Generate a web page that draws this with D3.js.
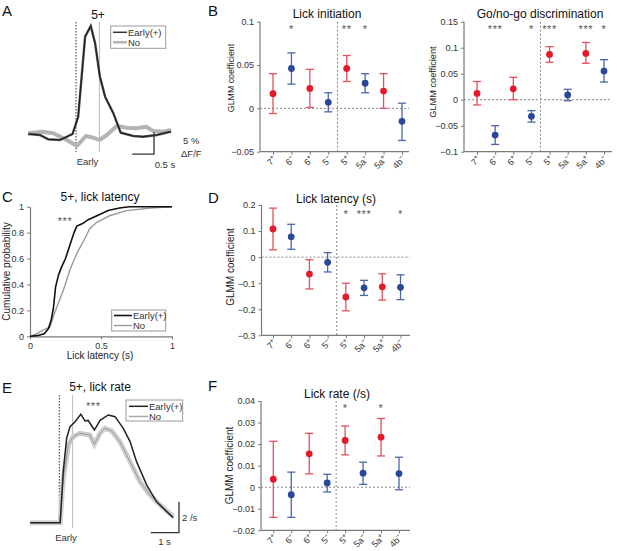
<!DOCTYPE html>
<html><head><meta charset="utf-8">
<script src="https://cdn.jsdelivr.net/npm/d3@7/dist/d3.min.js"></script>
<style>body{margin:0;background:#fff}svg{font-family:"Liberation Sans",Arial,sans-serif}</style>
</head><body>
<script>
// ---------- DATA ----------
const cats = ["7+","6-","6+","5-","5+","5a-","5a+","4b-"];

const initMean = [0.017, 0.046, 0.023, 0.007, 0.046, 0.029, 0.020, -0.015];
const initLo   = [-0.006, 0.028, 0.001, -0.004, 0.031, 0.018, 0.000, -0.037];
const initHi   = [0.040, 0.064, 0.045, 0.018, 0.061, 0.040, 0.040, 0.006];
const initStars = ["", "*", "", "", "**", "*", "", ""];
const initTicks = [-0.05, 0, 0.05, 0.1];

const gngMean = [0.012, -0.068, 0.021, -0.032, 0.087, 0.009, 0.089, 0.055];
const gngLo   = [-0.010, -0.086, 0.000, -0.043, 0.072, -0.002, 0.070, 0.034];
const gngHi   = [0.035, -0.050, 0.043, -0.021, 0.102, 0.020, 0.110, 0.077];
const gngStars = ["", "***", "", "*", "***", "", "***", "*"];
const gngTicks = [-0.1, -0.05, 0, 0.05, 0.1, 0.15];

const latMean = [0.108, 0.078, -0.065, -0.020, -0.153, -0.118, -0.114, -0.116];
const latLo   = [0.028, 0.030, -0.122, -0.057, -0.206, -0.147, -0.165, -0.163];
const latHi   = [0.188, 0.126, -0.010, 0.017, -0.100, -0.089, -0.064, -0.068];
const latStars = ["", "", "", "", "*", "***", "", "*"];
const latTicks = [-0.3, -0.2, -0.1, 0, 0.1, 0.2];

const rateMean = [0.0037, -0.0035, 0.0155, 0.0020, 0.0217, 0.0065, 0.0232, 0.0063];
const rateLo   = [-0.0140, -0.0140, 0.0062, -0.0022, 0.0150, 0.0013, 0.0145, -0.0012];
const rateHi   = [0.0213, 0.0070, 0.0250, 0.0060, 0.0284, 0.0116, 0.0319, 0.0139];
const rateStars = ["", "", "", "", "*", "", "*", ""];
const rateTicks = [-0.02, -0.01, 0, 0.01, 0.02, 0.03, 0.04];

// Panel A: dF/F traces (%), time (s) from early onset
const aTimeEarly = [-1.10,-0.83,-0.64,-0.37,-0.08,0.05,0.21,0.34,0.44,0.55,0.67,0.86,1.03,1.32,1.55,1.86,2.19];
const aEarly     = [0,-0.27,-1.45,-1.64,0,4.7,26.6,29.5,24.8,15.7,10.2,5.7,0.36,-0.55,-0.74,-0.27,0.63];
const aTimeNo    = [-1.10,-0.79,-0.52,-0.21,0.02,0.23,0.40,0.54,0.71,0.94,1.17,1.40,1.61,1.78,2.01,2.19];
const aNo        = [0.19,0.63,0.19,-1.64,-3.28,-0.55,-1.01,-1.64,-0.27,2.19,1.72,1.56,1.99,0.82,0.63,1.09];
const aLateMark = 0.54;

// Panel C: cumulative probability of lick latency
const latEarlyT = [0, 0.05, 0.10, 0.13, 0.15, 0.165, 0.18, 0.20, 0.22, 0.25, 0.28, 0.31, 0.33, 0.37, 0.41, 0.49, 0.55, 0.63, 0.70, 1.0];
const latEarlyP = [0, 0.005, 0.02, 0.06, 0.13, 0.22, 0.38, 0.47, 0.53, 0.60, 0.70, 0.80, 0.85, 0.87, 0.90, 0.94, 0.97, 0.99, 1.0, 1.0];
const latNoT = [0, 0.05, 0.094, 0.14, 0.176, 0.235, 0.28, 0.33, 0.375, 0.42, 0.47, 0.56, 0.68, 0.85, 1.0];
const latNoP = [0, 0.02, 0.05, 0.07, 0.19, 0.356, 0.51, 0.64, 0.73, 0.83, 0.88, 0.93, 0.97, 0.99, 1.0];
const cXTicks = [0, 0.5, 1];
const cYTicks = [0, 0.2, 0.4, 0.6, 0.8, 1];

// Panel E: lick rate (/s)
const eTime  = [-1.03, 0.03, 0.14, 0.26, 0.38, 0.55, 0.76, 0.91, 1.02, 1.24, 1.44, 1.73, 1.97, 2.26, 2.5, 2.73, 3.09, 3.44, 3.8, 4.03];
const eEarly = [0, 0, 3.3, 5.45, 6.2, 6.5, 7.0, 6.56, 6.6, 5.98, 6.6, 6.95, 6.84, 6.09, 5.23, 3.94, 2.43, 1.35, 0.71, 0.32];
const eNoTime = [-1.03, 0.03, 0.14, 0.32, 0.49, 0.73, 1.08, 1.24, 1.44, 1.61, 1.85, 2.14, 2.5, 2.85, 3.2, 3.56, 4.03];
const eNo     = [0, 0, 2.86, 5.0, 5.55, 5.77, 5.66, 5.06, 5.77, 6.09, 5.92, 5.23, 3.94, 2.65, 1.79, 1.14, 0.39];
const eLateMark = 0.47;

// ---------- DRAW ----------
const RED_DOT = "#e31a2a", RED_BAR = "#e4505e", BLUE_DOT = "#2a479b", BLUE_BAR = "#4d66a8";
const AX = "#7a7a7a", TXT = "#333";
const svg = d3.select("body").append("svg").attr("width", 617).attr("height", 551);

function txt(x, y, s, o = {}) {
  const t = svg.append("text").attr("x", x).attr("y", y).text(s)
    .attr("font-size", o.size || 10).attr("fill", o.fill || TXT)
    .attr("text-anchor", o.anchor || "start");
  if (o.rotate) t.attr("transform", `rotate(${o.rotate},${x},${y})`);
  if (o.ls) t.attr("letter-spacing", o.ls);
  return t;
}
function star(x, yc, s) {
  if (!s) return;
  txt(x, yc + 6.5, s, {size: 11, anchor: "middle", fill: "#555", ls: 0.6});
}

// panel letters
[["A",2,16],["B",208,16],["C",2,202],["D",208,203],["E",2,393],["F",208,391]].forEach(d =>
  txt(d[1], d[2], d[0], {size: 15, fill: "#111"}));

function glmm(cfg, mean, lo, hi, stars, ticks) {
  const y = d3.scaleLinear().domain([ticks[0], ticks[ticks.length - 1]]).range([cfg.yBot, cfg.yTop]);
  const x = d3.scalePoint().domain(cats).range([cfg.c0, cfg.c1]);
  const g = svg.append("g");
  g.append("line").attr("x1", cfg.ax).attr("x2", cfg.axEnd).attr("y1", y(0)).attr("y2", y(0))
    .attr("stroke", "#888").attr("stroke-dasharray", "2,2").attr("stroke-width", 1);
  const sep = (x("5-") + x("5+")) / 2;
  g.append("line").attr("x1", sep).attr("x2", sep).attr("y1", cfg.yTop).attr("y2", cfg.yBot)
    .attr("stroke", "#888").attr("stroke-dasharray", "2,2").attr("stroke-width", 1);
  const ya = g.append("g").attr("transform", `translate(${cfg.ax},0)`)
    .call(d3.axisLeft(y).tickValues(ticks).tickSize(3).tickSizeOuter(0).tickFormat(d => d3.format("")(+d.toFixed(3))));
  ya.select(".domain").remove();
  ya.selectAll("line").attr("stroke", AX);
  ya.selectAll("text").attr("font-size", 9).attr("fill", TXT).attr("font-family", null);
  g.append("line").attr("x1", cfg.ax).attr("x2", cfg.ax).attr("y1", cfg.yTop).attr("y2", cfg.yBot).attr("stroke", AX).attr("stroke-width", 1.2);
  const xa = g.append("g").attr("transform", `translate(0,${cfg.yBot})`)
    .call(d3.axisBottom(x).tickSize(3).tickSizeOuter(0).tickFormat(""));
  xa.select(".domain").remove();
  xa.selectAll("line").attr("stroke", AX);
  g.append("line").attr("x1", cfg.ax).attr("x2", cfg.axEnd).attr("y1", cfg.yBot).attr("y2", cfg.yBot).attr("stroke", AX).attr("stroke-width", 1.2);
  cats.forEach(c => {
    const px = x(c) + 4, py = cfg.yBot + 8;
    const t = g.append("text").attr("transform", `translate(${px},${py}) rotate(-45)`)
      .attr("text-anchor", "end").attr("font-size", 9).attr("fill", TXT);
    t.append("tspan").text(c.slice(0, -1));
    t.append("tspan").text(c.slice(-1) === "+" ? "+" : "\u2212").attr("font-size", 6.5).attr("dy", -3.5);
  });
  cats.forEach((c, i) => {
    const plus = c.slice(-1) === "+";
    const bc = plus ? RED_BAR : BLUE_BAR, dc = plus ? RED_DOT : BLUE_DOT;
    const cx = x(c);
    g.append("line").attr("x1", cx).attr("x2", cx).attr("y1", y(lo[i])).attr("y2", y(hi[i])).attr("stroke", bc).attr("stroke-width", 1.3);
    [lo[i], hi[i]].forEach(v => g.append("line").attr("x1", cx - 4).attr("x2", cx + 4).attr("y1", y(v)).attr("y2", y(v)).attr("stroke", bc).attr("stroke-width", 1.3));
    g.append("circle").attr("cx", cx).attr("cy", y(mean[i])).attr("r", 3.4).attr("fill", dc);
    star(cx, cfg.starY, stars[i]);
  });
  txt(cfg.titleX, cfg.titleY, cfg.title, {size: 12, anchor: "middle", fill: "#111"});
  txt(cfg.labX, cfg.labY, "GLMM coefficient", {size: cfg.labSize, anchor: "middle", rotate: -90, fill: "#222"});
}

glmm({ax: 260, axEnd: 409, yTop: 21.7, yBot: 151.7, c0: 273, c1: 402, starY: 26, title: "Lick initiation", titleX: 327, titleY: 18, labX: 234, labY: 78, labSize: 8.8},
  initMean, initLo, initHi, initStars, initTicks);
glmm({ax: 464, axEnd: 612, yTop: 21.7, yBot: 151.7, c0: 477, c1: 604, starY: 26, title: "Go/no-go discrimination", titleX: 540, titleY: 18, labX: 436, labY: 82, labSize: 9.2},
  gngMean, gngLo, gngHi, gngStars, gngTicks);
glmm({ax: 261.5, axEnd: 410, yTop: 205, yBot: 335.3, c0: 273, c1: 400.5, starY: 211, title: "Lick latency (s)", titleX: 336, titleY: 203, labX: 234, labY: 267, labSize: 10},
  latMean, latLo, latHi, latStars, latTicks);
glmm({ax: 261, axEnd: 410, yTop: 401, yBot: 530.3, c0: 273.3, c1: 399, starY: 405, title: "Lick rate (/s)", titleX: 337, titleY: 398, labX: 233, labY: 465.5, labSize: 10},
  rateMean, rateLo, rateHi, rateStars, rateTicks);

// ---------- Panel A ----------
{
  const x = d3.scaleLinear().domain([0, 1]).range([76, 119.4]);
  const y = d3.scaleLinear().domain([0, 5]).range([134, 115.7]);
  svg.append("line").attr("x1", x(0)).attr("x2", x(0)).attr("y1", 22).attr("y2", 152).attr("stroke", "#333").attr("stroke-dasharray", "1.5,1.5");
  svg.append("line").attr("x1", x(aLateMark)).attr("x2", x(aLateMark)).attr("y1", 22).attr("y2", 152).attr("stroke", "#bbb").attr("stroke-width", 1);
  const ln = d3.line().x(d => x(d[0])).y(d => y(d[1]));
  svg.append("path").attr("d", ln(d3.zip(aTimeNo, aNo))).attr("fill", "none").attr("stroke", "#b4b4b4").attr("stroke-width", 4).attr("stroke-linejoin", "round");
  svg.append("path").attr("d", ln(d3.zip(aTimeEarly, aEarly))).attr("fill", "none").attr("stroke", "#555").attr("stroke-width", 2.4);
  svg.append("path").attr("d", ln(d3.zip(aTimeEarly, aEarly))).attr("fill", "none").attr("stroke", "#222").attr("stroke-width", 1.2);
  txt(98, 19, "5+", {size: 12, anchor: "middle", fill: "#111"});
  txt(87.5, 165, "Early", {size: 9.5, anchor: "middle"});
  svg.append("rect").attr("x", 110.7).attr("y", 26).attr("width", 55).attr("height", 22.3).attr("fill", "#fff").attr("stroke", "#999");
  svg.append("line").attr("x1", 113).attr("x2", 127).attr("y1", 32.3).attr("y2", 32.3).attr("stroke", "#333").attr("stroke-width", 1.5);
  svg.append("line").attr("x1", 113).attr("x2", 127).attr("y1", 42.3).attr("y2", 42.3).attr("stroke", "#b4b4b4").attr("stroke-width", 2.5);
  txt(128, 35.5, "Early(+)", {size: 9.5});
  txt(128, 45.5, "No", {size: 9.5});
  svg.append("path").attr("d", `M${x(1.797)},${y(0.5)}V${y(-5.5)}H${x(1.797) - 21.7}`).attr("fill", "none").attr("stroke", "#333").attr("stroke-width", 1.3);
  txt(183, 144, "5 %", {size: 9.5});
  txt(181, 157, "\u0394F/F", {size: 9.5});
  txt(165, 168, "0.5 s", {size: 9.5, anchor: "middle"});
}

// ---------- Panel C ----------
{
  const x = d3.scaleLinear().domain([0, 1]).range([30, 172]);
  const y = d3.scaleLinear().domain([0, 1]).range([336.3, 206.7]);
  const ya = svg.append("g").attr("transform", "translate(30,0)").call(d3.axisLeft(y).tickValues(cYTicks).tickSize(3).tickSizeOuter(0).tickFormat(d3.format("")));
  const xa = svg.append("g").attr("transform", "translate(0,336.3)").call(d3.axisBottom(x).tickValues(cXTicks).tickSize(3).tickSizeOuter(0).tickFormat(d3.format("")));
  [ya, xa].forEach(a => {
    a.select(".domain").attr("stroke", AX).attr("stroke-width", 1.2);
    a.selectAll("line").attr("stroke", AX);
    a.selectAll("text").attr("font-size", 9).attr("fill", TXT).attr("font-family", null);
  });
  const ln = d3.line().x(d => x(d[0])).y(d => y(d[1]));
  svg.append("path").attr("d", ln(d3.zip(latNoT, latNoP))).attr("fill", "none").attr("stroke", "#9a9a9a").attr("stroke-width", 1.4);
  svg.append("path").attr("d", ln(d3.zip(latEarlyT, latEarlyP))).attr("fill", "none").attr("stroke", "#111").attr("stroke-width", 1.6);
  txt(100, 201, "5+, lick latency", {size: 12, anchor: "middle", fill: "#111"});
  txt(65, 224.5, "***", {size: 11, anchor: "middle", fill: "#555", ls: 0.6});
  txt(100, 359, "Lick latency (s)", {size: 10, anchor: "middle", fill: "#222"});
  txt(10, 271.5, "Cumulative probability", {size: 10, anchor: "middle", rotate: -90, fill: "#222"});
  svg.append("rect").attr("x", 111.7).attr("y", 310).attr("width", 54).attr("height", 21).attr("fill", "#fff").attr("stroke", "#999");
  svg.append("line").attr("x1", 114).attr("x2", 132).attr("y1", 315.5).attr("y2", 315.5).attr("stroke", "#111").attr("stroke-width", 1.6);
  svg.append("line").attr("x1", 114).attr("x2", 132).attr("y1", 325.5).attr("y2", 325.5).attr("stroke", "#9a9a9a").attr("stroke-width", 1.4);
  txt(133, 318.8, "Early(+)", {size: 9.5});
  txt(133, 328.8, "No", {size: 9.5});
}

// ---------- Panel E ----------
{
  const x = d3.scaleLinear().domain([0, 1]).range([59.3, 87.6]);
  const y = d3.scaleLinear().domain([0, 2]).range([522.7, 491.7]);
  svg.append("line").attr("x1", x(0)).attr("x2", x(0)).attr("y1", 395).attr("y2", 523).attr("stroke", "#333").attr("stroke-dasharray", "1.5,1.5");
  svg.append("line").attr("x1", x(eLateMark)).attr("x2", x(eLateMark)).attr("y1", 395).attr("y2", 528).attr("stroke", "#bbb").attr("stroke-width", 1);
  const ln = d3.line().x(d => x(d[0])).y(d => y(d[1]));
  svg.append("path").attr("d", ln(d3.zip(eNoTime, eNo))).attr("fill", "none").attr("stroke", "#cfcfcf").attr("stroke-width", 5);
  svg.append("path").attr("d", ln(d3.zip(eNoTime, eNo))).attr("fill", "none").attr("stroke", "#999").attr("stroke-width", 1);
  svg.append("path").attr("d", ln(d3.zip(eTime, eEarly))).attr("fill", "none").attr("stroke", "#222").attr("stroke-width", 1.5);
  txt(100, 391, "5+, lick rate", {size: 12, anchor: "middle", fill: "#111"});
  txt(93.3, 409.5, "***", {size: 11, anchor: "middle", fill: "#555", ls: 0.6});
  txt(66, 541, "Early", {size: 9.5, anchor: "middle"});
  svg.append("rect").attr("x", 126).attr("y", 400).attr("width", 56.7).attr("height", 21).attr("fill", "#fff").attr("stroke", "#999");
  svg.append("line").attr("x1", 129).attr("x2", 148).attr("y1", 406.3).attr("y2", 406.3).attr("stroke", "#222").attr("stroke-width", 1.5);
  svg.append("line").attr("x1", 129).attr("x2", 148).attr("y1", 416.5).attr("y2", 416.5).attr("stroke", "#aaa").attr("stroke-width", 1.5);
  txt(149, 409.5, "Early(+)", {size: 9.5});
  txt(149, 420, "No", {size: 9.5});
  const sbx = 179, sby = 532.7;
  svg.append("path").attr("d", `M${sbx},${sby - (y(0) - y(2))}V${sby}H${sbx - (x(1) - x(0))}`).attr("fill", "none").attr("stroke", "#333").attr("stroke-width", 1.3);
  txt(182, 521, "2 /s", {size: 9.5});
  txt(164.5, 545, "1 s", {size: 9.5, anchor: "middle"});
}
</script>
</body></html>
